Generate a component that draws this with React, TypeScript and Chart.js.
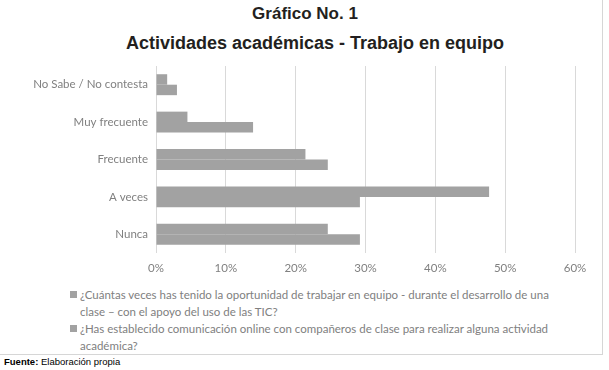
import React, { useEffect, useRef } from "react";
import { Chart, registerables } from "chart.js";

Chart.register(...registerables);

const categories = ["No Sabe / No contesta", "Muy frecuente", "Frecuente", "A veces", "Nunca"];
const series1Values = [1.6, 4.5, 21.4, 47.7, 24.6];
const series2Values = [3.0, 13.9, 24.6, 29.2, 29.2];
const series1Lines = [
  "¿Cuántas veces has tenido la oportunidad de trabajar en equipo - durante el desarrollo de una",
  "clase – con el apoyo del uso de las TIC?",
];
const series2Lines = [
  "¿Has establecido comunicación online con compañeros de clase para realizar alguna actividad",
  "académica?",
];
const xTicks = [0, 10, 20, 30, 40, 50, 60];
const titleText = "Gráfico No. 1";
const subtitleText = "Actividades académicas - Trabajo en equipo";

const BAR_COLOR = "#a2a2a2";
const LABEL_COLOR = "#808080";

export default function App() {
  const canvasRef = useRef<HTMLCanvasElement>(null);

  useEffect(() => {
    const ctx = canvasRef.current!;
    const chart = new Chart(ctx, {
      type: "bar",
      data: {
        labels: categories,
        datasets: [
          {
            label: series1Lines.join(" "),
            data: series1Values,
            backgroundColor: BAR_COLOR,
            borderWidth: 0,
            categoryPercentage: 0.56,
            barPercentage: 1,
          },
          {
            label: series2Lines.join(" "),
            data: series2Values,
            backgroundColor: BAR_COLOR,
            borderWidth: 0,
            categoryPercentage: 0.56,
            barPercentage: 1,
          },
        ],
      },
      options: {
        indexAxis: "y",
        animation: false,
        responsive: false,
        maintainAspectRatio: false,
        layout: { padding: { top: 66, bottom: 7, left: 0, right: 27 } },
        plugins: {
          legend: { display: false },
          tooltip: { enabled: false },
          title: { display: false },
        },
        scales: {
          x: {
            min: xTicks[0],
            max: xTicks[xTicks.length - 1],
            afterFit: (scale: any) => {
              scale.height = 25;
            },
            afterBuildTicks: (scale: any) => {
              scale.ticks = xTicks.map((v) => ({ value: v }));
            },
            grid: { color: "#d9d9d9", drawTicks: false, lineWidth: 1 },
            border: { display: false },
            ticks: {
              padding: 8,
              color: LABEL_COLOR,
              font: { family: "Lato", size: 11.5 },
              callback: (v: any) => v + "%",
            },
          },
          y: {
            afterFit: (scale: any) => {
              scale.width = 156;
            },
            grid: { display: false, drawTicks: false },
            border: { display: false },
            ticks: {
              padding: 8,
              color: LABEL_COLOR,
              font: { family: "Lato", size: 11.5 },
            },
          },
        },
      },
    });
    return () => chart.destroy();
  }, []);

  const legendItem = (lines: string[], top: number) => (
    <div
      style={{
        position: "absolute",
        left: 70,
        top,
        fontFamily: "Lato",
        fontSize: 11.5,
        lineHeight: "17px",
        color: LABEL_COLOR,
        whiteSpace: "nowrap",
      }}
    >
      <div style={{ display: "flex", alignItems: "center" }}>
        <span
          style={{
            display: "inline-block",
            width: 7,
            height: 7,
            background: BAR_COLOR,
            marginRight: 3,
          }}
        />
        <span>{lines[0]}</span>
      </div>
      <div style={{ paddingLeft: 10 }}>{lines[1]}</div>
    </div>
  );

  return (
    <div
      style={{
        position: "absolute",
        left: 0,
        top: 0,
        width: 609,
        height: 370,
        background: "#ffffff",
        overflow: "hidden",
      }}
    >
      <div
        style={{
          position: "absolute",
          left: 0,
          top: 0,
          width: 602,
          height: 354,
          borderRight: "1px solid #d6d6d6",
          borderBottom: "1px solid #d6d6d6",
        }}
      />
      <div
        style={{
          position: "absolute",
          left: 205,
          width: 200,
          top: 4,
          textAlign: "center",
          fontFamily: "Liberation Sans",
          fontWeight: "bold",
          fontSize: 17,
          color: "#231f20",
        }}
      >
        {titleText}
      </div>
      <div
        style={{
          position: "absolute",
          left: 65,
          width: 500,
          top: 33,
          textAlign: "center",
          fontFamily: "Liberation Sans",
          fontWeight: "bold",
          fontSize: 18,
          color: "#231f20",
        }}
      >
        {subtitleText}
      </div>
      <canvas
        ref={canvasRef}
        width={602}
        height={285}
        style={{ position: "absolute", left: 0, top: 0 }}
      />
      {legendItem(series1Lines, 286)}
      {legendItem(series2Lines, 320)}
      <div
        style={{
          position: "absolute",
          left: 4,
          top: 356,
          fontFamily: "Liberation Sans",
          fontSize: 9.5,
          color: "#000",
          whiteSpace: "nowrap",
        }}
      >
        <b>Fuente:</b> Elaboración propia
      </div>
    </div>
  );
}
